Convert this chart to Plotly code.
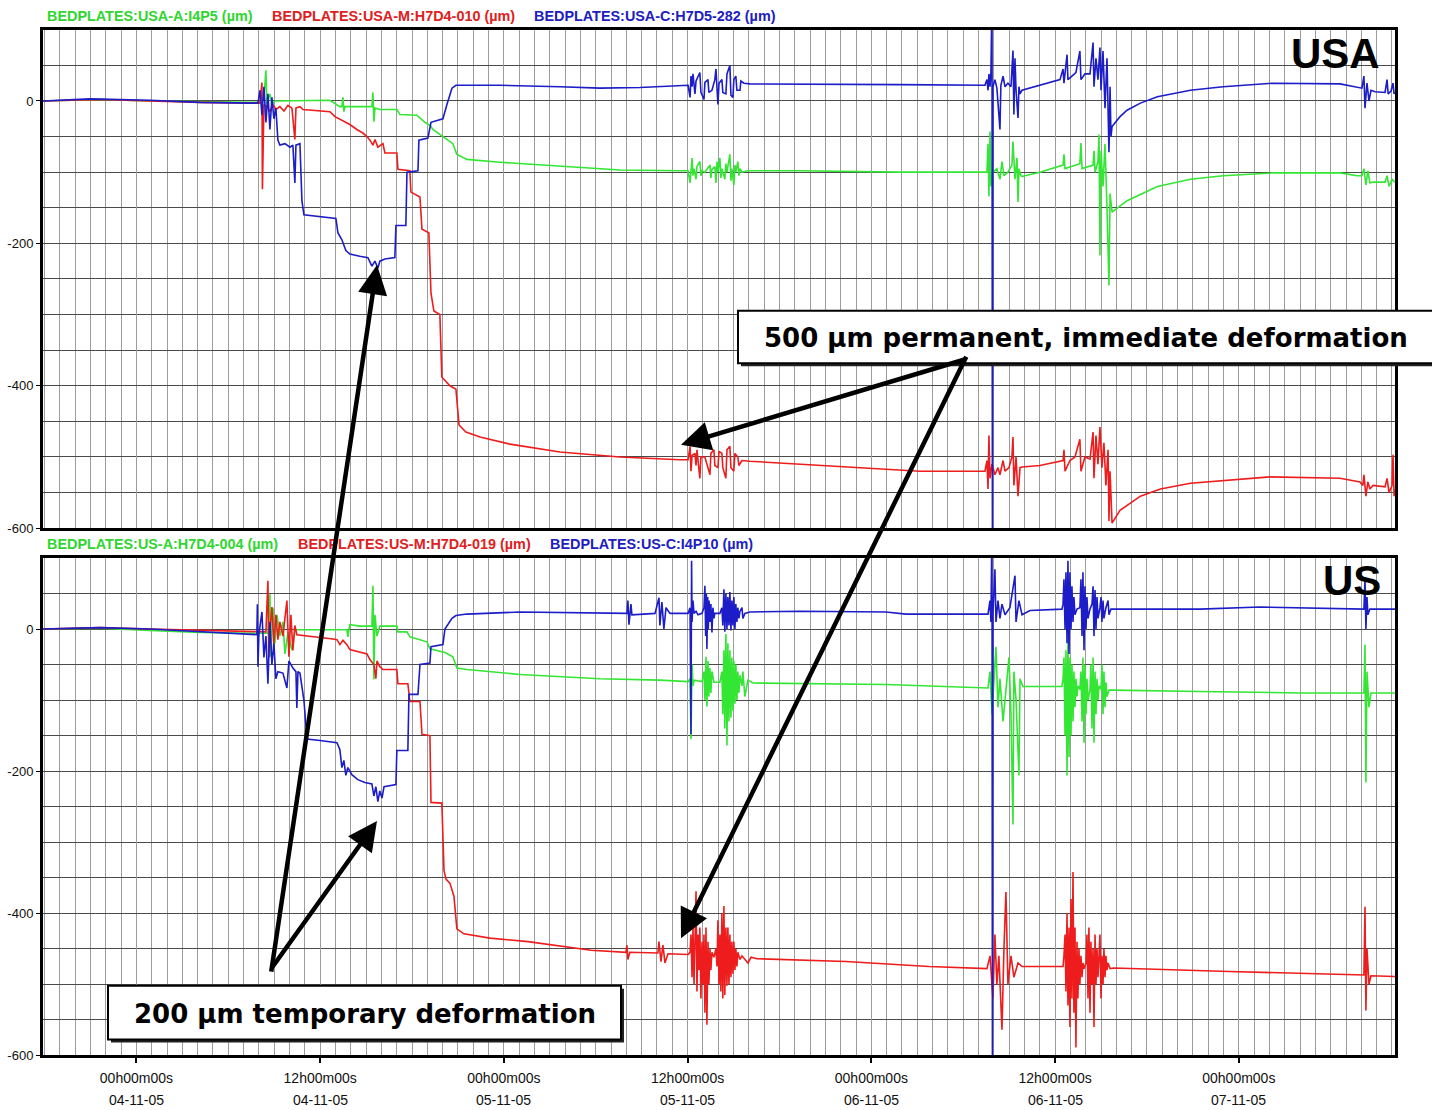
import plotly.graph_objects as go
import pandas as pd

# ---------------- data ----------------
BASE = pd.Timestamp("2005-11-04 00:00:00")
X_RANGE_H = [-6.1, 82.2]          # hours relative to 04-11-05 00h00
Y_RANGE = [-600, 100]
y_tick_values = [-600, -400, -200, 0]
tick_hours = [0, 12, 24, 36, 48, 60, 72]

legend_top = ["BEDPLATES:USA-A:I4P5 (µm)", "BEDPLATES:USA-M:H7D4-010 (µm)", "BEDPLATES:USA-C:H7D5-282 (µm)"]
legend_bot = ["BEDPLATES:US-A:H7D4-004 (µm)", "BEDPLATES:US-M:H7D4-019 (µm)", "BEDPLATES:US-C:I4P10 (µm)"]
panel_names = ["USA", "US"]
callouts = ["500 µm permanent, immediate deformation", "200 µm temporary deformation"]

# each series: (hours since 04-11-05 00h00, µm)
usa_a = [(-6.1, 0), (-2.38, 2), (0.88, 0), (4.15, -1), (7.74, -2), (8.07, -1), (8.33, 5), (8.46, 43), (8.52, -5), (8.72, 10),
         (8.85, -5), (9.05, 0), (9.37, 0), (10.48, 1), (12.64, 1), (13.29, -8), (13.42, -8), (13.49, 5), (13.55, -15), (13.62, -8),
         (15.06, -8), (15.38, -8), (15.45, 12), (15.51, -29), (15.58, -10), (15.90, -12), (17.01, -12), (17.21, -19), (18.32, -20),
         (18.84, -30), (19.17, -34), (19.37, -40), (20.02, -50), (20.48, -58), (20.67, -60), (20.93, -75), (21.59, -82), (23.74, -86),
         (27.66, -92), (31.58, -97), (35.50, -98), (36.03, -98), (36.16, -115), (36.22, -90), (36.29, -80), (36.35, -105), (36.42, -95),
         (36.55, -110), (36.61, -92), (36.80, -85), (36.87, -105), (36.94, -98), (37.13, -100), (37.46, -90), (37.52, -108), (37.59, -96),
         (37.78, -92), (37.85, -115), (37.92, -85), (37.98, -100), (38.11, -80), (38.17, -108), (38.24, -95), (38.43, -110), (38.50, -88),
         (38.57, -100), (38.70, -82), (38.76, -75), (38.83, -112), (38.89, -95), (39.02, -118), (39.09, -90), (39.15, -100), (39.28, -85),
         (39.35, -105), (39.42, -95), (39.55, -100), (39.94, -98), (43.34, -98), (49.87, -100), (55.42, -100), (55.55, -100),
         (55.62, -60), (55.68, -134), (55.75, -43), (55.81, -120), (55.94, -100), (56.20, -95), (56.40, -110), (56.53, -85),
         (56.66, -105), (56.92, -100), (57.18, -90), (57.25, -57), (57.38, -110), (57.51, -80), (57.58, -142), (57.64, -95),
         (57.77, -105), (57.84, -106), (59.01, -100), (60.52, -90), (60.58, -75), (60.65, -95), (61.62, -88), (61.69, -59),
         (61.76, -95), (62.48, -90), (62.54, -70), (62.61, -100), (62.80, -85), (62.87, -47), (62.93, -217), (63.00, -70),
         (63.13, -120), (63.26, -60), (63.39, -150), (63.52, -259), (63.59, -130), (63.72, -156), (64.70, -140), (66.68, -120),
         (68.84, -110), (70.97, -105), (74.23, -101), (78.61, -101), (79.72, -105), (80.04, -105), (80.17, -95), (80.30, -118),
         (80.43, -98), (80.56, -115), (80.77, -114), (81.55, -114), (81.68, -105), (81.81, -120), (82.01, -110), (82.20, -114)]

usa_m = [(-6.1, 0), (-2.38, 2), (0.88, 0), (4.15, -2), (7.74, -3), (8.07, -3), (8.20, 26), (8.23, -124), (8.33, -5), (8.52, -8),
         (8.72, -15), (8.92, -5), (9.11, -12), (9.37, -8), (9.64, -14), (9.90, -6), (10.16, -10), (10.35, -54), (10.42, -10),
         (10.68, -8), (10.88, -12), (12.64, -15), (12.97, -22), (13.29, -26), (13.62, -30), (13.94, -33), (14.40, -40), (14.79, -45),
         (15.06, -50), (15.25, -55), (15.45, -62), (15.58, -54), (15.77, -65), (16.10, -60), (16.23, -73), (17.01, -73), (17.08, -96),
         (17.86, -98), (17.93, -128), (18.52, -135), (18.65, -180), (19.10, -185), (19.24, -270), (19.43, -295), (19.82, -300),
         (19.95, -388), (20.48, -400), (20.87, -405), (21.07, -455), (21.52, -465), (22.44, -472), (24.40, -482), (27.66, -493),
         (31.58, -500), (35.50, -504), (36.03, -504), (36.16, -485), (36.22, -520), (36.29, -498), (36.48, -495), (36.55, -512),
         (36.61, -490), (36.80, -530), (36.87, -500), (37.13, -500), (37.46, -525), (37.52, -495), (37.72, -490), (37.78, -512),
         (37.98, -515), (38.05, -492), (38.24, -495), (38.30, -515), (38.50, -530), (38.57, -490), (38.76, -485), (38.83, -515),
         (39.02, -520), (39.09, -495), (39.28, -500), (39.35, -512), (39.55, -505), (40.07, -506), (43.34, -510), (47.26, -515),
         (51.18, -520), (55.42, -520), (55.55, -505), (55.62, -545), (55.68, -470), (55.75, -530), (55.88, -510), (56.07, -525),
         (56.27, -515), (56.40, -525), (56.60, -505), (56.73, -520), (56.99, -515), (57.18, -500), (57.25, -472), (57.31, -540),
         (57.45, -500), (57.58, -555), (57.71, -515), (57.84, -514), (59.01, -512), (60.52, -505), (60.58, -490), (60.65, -520),
         (60.97, -505), (61.30, -500), (61.62, -475), (61.69, -520), (61.95, -500), (62.28, -503), (62.48, -465), (62.54, -530),
         (62.67, -470), (62.80, -510), (62.93, -458), (63.06, -515), (63.19, -480), (63.32, -540), (63.46, -490), (63.52, -590),
         (63.59, -520), (63.72, -593), (64.24, -575), (65.57, -555), (66.88, -545), (68.84, -537), (71.43, -532), (74.04, -528),
         (78.61, -530), (79.91, -535), (80.10, -540), (80.17, -525), (80.30, -555), (80.43, -535), (80.56, -545), (80.77, -540),
         (81.55, -542), (81.68, -530), (81.81, -550), (82.01, -540), (82.07, -497), (82.14, -555), (82.20, -545)]

usa_c = [(-6.1, 0), (-3.04, 3), (0.88, 1), (4.15, -2), (7.41, -3), (7.94, -3), (8.07, 15), (8.20, -20), (8.33, 20), (8.46, -30),
         (8.59, 10), (8.72, -40), (8.85, 5), (8.98, -25), (9.11, -10), (9.24, -55), (9.37, -62), (9.70, -60), (10.03, -65),
         (10.22, -62), (10.35, -115), (10.42, -62), (10.68, -60), (10.81, -140), (10.94, -160), (11.99, -163), (13.03, -165),
         (13.16, -185), (13.42, -195), (13.68, -210), (13.94, -215), (14.59, -218), (15.12, -220), (15.38, -232), (15.58, -225),
         (15.77, -235), (15.90, -225), (16.23, -222), (16.88, -220), (16.95, -175), (17.60, -175), (17.67, -100), (18.39, -98),
         (18.45, -55), (19.04, -52), (19.24, -30), (20.02, -25), (20.28, -5), (20.61, 18), (20.87, 22), (23.74, 22), (27.66, 20),
         (30.27, 18), (32.89, 19), (35.50, 22), (36.03, 22), (36.16, 5), (36.22, 35), (36.29, 20), (36.35, 38), (36.48, 10),
         (36.55, 28), (36.80, 40), (36.87, 12), (37.07, 2), (37.13, 26), (37.33, 30), (37.39, 12), (37.59, 15), (37.78, 30),
         (37.85, 45), (37.92, 10), (37.98, -5), (38.05, 25), (38.24, 30), (38.30, 12), (38.50, 10), (38.57, 38), (38.76, 50),
         (38.83, 8), (38.96, 5), (39.02, 30), (39.15, 35), (39.22, 15), (39.42, 15), (39.48, 28), (39.68, 25), (40.07, 24),
         (43.34, 24), (49.87, 23), (55.42, 22), (55.55, 30), (55.62, 15), (55.68, 38), (55.75, 20), (55.81, 40), (55.88, 150),
         (55.91, -700), (55.94, 20), (56.07, 30), (56.20, 18), (56.40, -40), (56.46, 22), (56.60, 35), (56.73, 20), (56.92, 25),
         (57.12, 20), (57.25, 71), (57.31, -19), (57.38, 60), (57.45, 15), (57.58, -24), (57.64, 20), (57.71, 10), (57.84, 15),
         (59.01, 22), (60.32, 30), (60.52, 45), (60.58, 25), (60.78, 65), (60.84, 30), (61.10, 35), (61.36, 40), (61.62, 70),
         (61.69, 30), (61.95, 38), (62.28, 38), (62.48, 82), (62.54, 20), (62.67, 60), (62.80, 30), (62.93, 75), (63.00, 15),
         (63.13, 70), (63.26, -10), (63.39, 60), (63.52, -72), (63.59, 20), (63.65, -50), (63.72, -36), (64.24, -22), (64.70, -13),
         (65.57, -3), (66.68, 6), (68.84, 15), (70.97, 20), (74.23, 25), (78.61, 24), (79.72, 20), (80.04, 18), (80.17, 35),
         (80.24, -10), (80.37, 25), (80.50, 0), (80.63, 15), (80.90, 13), (81.55, 12), (81.68, 30), (81.75, 10), (81.94, 14),
         (82.07, 25), (82.14, 10), (82.20, 12)]

us_a = [(-6.1, 0), (-2.38, 1), (0.88, -2), (4.15, -5), (7.74, -6), (8.59, -6), (8.72, 49), (8.78, -39), (8.92, 30), (9.05, -20),
        (9.18, 20), (9.37, -10), (9.57, 10), (9.70, -35), (9.90, -5), (10.16, -30), (10.35, -3), (10.48, -1), (13.75, -1),
        (13.81, -11), (13.94, 6), (14.59, 4), (15.38, 4), (15.45, 61), (15.51, -71), (15.58, 20), (15.71, -10), (15.90, 4),
        (17.01, 4), (17.08, -4), (17.67, -4), (17.86, -11), (18.97, -18), (19.17, -28), (20.15, -33), (20.67, -39), (20.93, -55),
        (21.59, -57), (25.05, -64), (30.27, -70), (34.19, -72), (36.03, -74), (36.16, -70), (36.22, -155), (36.29, -50),
        (36.35, -80), (36.42, -72), (36.94, -74), (37.07, -60), (37.13, -100), (37.20, -39), (37.26, -109), (37.33, -45),
        (37.39, -95), (37.46, -55), (37.52, -90), (37.59, -60), (37.72, -75), (38.11, -75), (38.24, -60), (38.30, -120),
        (38.37, -30), (38.43, -140), (38.50, -7), (38.57, -164), (38.63, -20), (38.70, -130), (38.76, -30), (38.83, -125),
        (38.89, -40), (38.96, -115), (39.02, -45), (39.09, -105), (39.15, -50), (39.22, -100), (39.28, -60), (39.35, -90),
        (39.42, -65), (39.55, -80), (39.61, -60), (39.74, -95), (39.94, -72), (40.27, -76), (48.96, -78), (55.62, -83),
        (55.75, -60), (55.88, -120), (56.01, -70), (56.14, -25), (56.27, -110), (56.40, -70), (56.60, -130), (56.79, -80),
        (56.99, -40), (57.12, -120), (57.25, -275), (57.31, -60), (57.45, -100), (57.64, -206), (57.71, -70), (57.90, -81),
        (60.45, -81), (60.52, -70), (60.58, -40), (60.65, -150), (60.71, -30), (60.78, -206), (60.84, -11), (60.91, -180),
        (60.97, -40), (61.04, -150), (61.10, -50), (61.17, -130), (61.23, -60), (61.30, -110), (61.36, -70), (61.43, -95),
        (61.49, -80), (61.62, -85), (61.69, -60), (61.76, -130), (61.82, -40), (61.89, -160), (61.95, -50), (62.02, -120),
        (62.08, -70), (62.15, -100), (62.28, -85), (62.34, -50), (62.41, -140), (62.48, -40), (62.54, -160), (62.61, -60),
        (62.67, -120), (62.74, -70), (62.80, -100), (62.87, -80), (63.00, -85), (63.06, -50), (63.13, -120), (63.19, -60),
        (63.26, -110), (63.32, -75), (63.39, -95), (63.52, -86), (63.78, -86), (69.46, -88), (75.99, -90), (79.91, -90),
        (80.17, -90), (80.24, -22), (80.30, -216), (80.37, -60), (80.50, -110), (80.63, -90), (82.20, -90)]

us_m = [(-6.1, 0), (-2.38, 2), (0.88, 0), (4.15, -2), (7.74, -4), (8.46, -4), (8.52, 30), (8.59, 68), (8.65, -40), (8.72, -4),
        (8.85, 31), (8.98, -21), (9.11, 20), (9.24, -15), (9.37, 10), (9.57, -10), (9.83, 40), (9.96, -39), (10.09, 20),
        (10.22, -30), (10.35, 5), (10.48, -8), (12.84, -14), (13.10, -15), (13.29, -22), (13.49, -16), (13.75, -22), (13.94, -29),
        (15.06, -35), (15.25, -43), (15.51, -50), (15.64, -70), (15.71, -45), (15.90, -53), (16.10, -57), (17.01, -57),
        (17.08, -77), (17.73, -77), (17.86, -102), (18.52, -102), (18.65, -148), (19.17, -150), (19.24, -244), (19.95, -245),
        (20.09, -340), (20.22, -352), (20.48, -358), (20.74, -376), (20.93, -422), (21.39, -429), (23.09, -435), (25.57, -440),
        (29.69, -452), (31.97, -455), (32.04, -445), (32.10, -465), (32.23, -455), (34.06, -456), (34.13, -440), (34.26, -468),
        (34.39, -445), (34.52, -470), (34.72, -457), (36.03, -458), (36.16, -455), (36.22, -430), (36.29, -490), (36.35, -420),
        (36.42, -500), (36.48, -440), (36.55, -369), (36.61, -510), (36.68, -430), (36.74, -480), (36.80, -420), (36.87, -520),
        (36.94, -440), (37.00, -500), (37.07, -430), (37.13, -540), (37.20, -420), (37.26, -557), (37.33, -440), (37.39, -500),
        (37.46, -450), (37.52, -480), (37.59, -455), (37.72, -462), (37.85, -450), (37.92, -475), (37.98, -410), (38.05, -500),
        (38.11, -430), (38.17, -510), (38.24, -400), (38.30, -520), (38.37, -390), (38.43, -515), (38.50, -420), (38.57, -502),
        (38.63, -420), (38.70, -500), (38.76, -430), (38.83, -490), (38.89, -440), (38.96, -485), (39.02, -440), (39.09, -480),
        (39.15, -450), (39.22, -475), (39.28, -455), (39.42, -465), (39.55, -460), (39.94, -470), (40.14, -462), (40.53, -464),
        (46.34, -468), (51.76, -475), (55.55, -478), (55.75, -460), (55.94, -520), (56.07, -430), (56.20, -500), (56.33, -460),
        (56.53, -564), (56.66, -450), (56.79, -370), (56.92, -500), (57.12, -460), (57.31, -490), (57.58, -470), (57.84, -475),
        (60.52, -475), (60.58, -460), (60.65, -430), (60.71, -510), (60.78, -400), (60.84, -530), (60.91, -420), (60.97, -560),
        (61.04, -380), (61.10, -520), (61.17, -342), (61.23, -540), (61.30, -420), (61.36, -589), (61.43, -440), (61.49, -520),
        (61.56, -450), (61.62, -500), (61.69, -460), (61.76, -490), (61.82, -470), (61.89, -478), (62.02, -470), (62.08, -430),
        (62.15, -520), (62.21, -420), (62.28, -540), (62.34, -440), (62.41, -500), (62.48, -450), (62.54, -560), (62.61, -430),
        (62.67, -500), (62.74, -450), (62.80, -490), (62.87, -460), (62.93, -430), (63.00, -520), (63.06, -460), (63.13, -500),
        (63.19, -450), (63.26, -490), (63.32, -460), (63.39, -480), (63.46, -470), (63.59, -478), (63.85, -477), (71.36, -482),
        (79.72, -487), (80.17, -487), (80.24, -391), (80.30, -537), (80.37, -450), (80.50, -500), (80.63, -488), (82.20, -489)]

us_c = [(-6.1, 0), (-2.38, 2), (0.88, 0), (4.15, -4), (7.74, -8), (7.87, -8), (7.90, 35), (7.94, -53), (8.00, -8), (8.20, 24),
        (8.33, -40), (8.46, -10), (8.59, -77), (8.72, 10), (8.85, -50), (8.98, -20), (9.11, -70), (9.24, -60), (9.57, -62),
        (9.83, -83), (9.96, -45), (10.22, -55), (10.42, -60), (10.48, -111), (10.55, -60), (10.68, -62), (10.94, -100),
        (11.14, -155), (11.99, -157), (13.10, -160), (13.29, -170), (13.42, -195), (13.55, -185), (13.68, -206), (13.81, -195),
        (14.07, -205), (14.46, -212), (14.92, -216), (15.38, -218), (15.51, -235), (15.64, -222), (15.77, -243), (15.90, -228),
        (16.04, -238), (16.17, -222), (16.56, -220), (16.95, -219), (17.01, -171), (17.73, -171), (17.80, -92), (18.39, -92),
        (18.52, -50), (19.17, -48), (19.24, -25), (20.02, -22), (20.15, 0), (20.61, 15), (20.87, 19), (21.59, 21), (25.05, 24),
        (30.27, 22), (32.04, 22), (32.10, 40), (32.17, 6), (32.30, 35), (32.36, 20), (33.87, 22), (34.13, 44), (34.19, 5),
        (34.32, 38), (34.45, 0), (34.59, 30), (34.85, 22), (36.03, 22), (36.16, 30), (36.22, -148), (36.26, 96), (36.29, 10),
        (36.35, 40), (36.42, 22), (36.55, 25), (36.68, 20), (36.94, 22), (37.07, 30), (37.13, 61), (37.18, -10), (37.22, 50),
        (37.26, -28), (37.31, 45), (37.35, 0), (37.40, 40), (37.46, 10), (37.52, 35), (37.59, -5), (37.65, 30), (37.72, 15),
        (37.78, 22), (38.11, 22), (38.24, 30), (38.30, 5), (38.37, 56), (38.43, -4), (38.50, 50), (38.57, 0), (38.63, 45),
        (38.70, 5), (38.76, 52), (38.83, -2), (38.89, 40), (38.96, 5), (39.02, 45), (39.09, 0), (39.15, 35), (39.22, 10),
        (39.28, 30), (39.35, 15), (39.42, 25), (39.55, 30), (39.61, 15), (39.74, 22), (40.07, 24), (43.34, 25), (48.96, 24),
        (50.26, 21), (55.62, 21), (55.75, 40), (55.81, 10), (55.88, 150), (55.91, -700), (55.94, 20), (56.07, 84), (56.14, 10),
        (56.27, 40), (56.40, 15), (56.53, 35), (56.73, 20), (57.05, 30), (57.38, 75), (57.45, 10), (57.64, 40), (57.84, 20),
        (58.36, 26), (60.45, 28), (60.52, 35), (60.58, 70), (60.65, 0), (60.71, 80), (60.78, -20), (60.84, 96), (60.91, -35),
        (60.97, 80), (61.04, 0), (61.10, 60), (61.17, 10), (61.23, 45), (61.30, 20), (61.43, 28), (61.62, 30), (61.69, 70),
        (61.76, -10), (61.82, 80), (61.89, -30), (61.95, 60), (62.02, 0), (62.08, 45), (62.15, 15), (62.28, 28), (62.41, 35),
        (62.48, 60), (62.54, -10), (62.61, 55), (62.67, 0), (62.74, 45), (62.80, 15), (62.93, 30), (63.00, 45), (63.06, 10),
        (63.13, 40), (63.19, 15), (63.32, 30), (63.46, 40), (63.52, 20), (63.65, 28), (63.78, 28), (69.46, 28), (73.38, 31),
        (75.99, 30), (79.91, 28), (80.17, 28), (80.24, 70), (80.30, 0), (80.37, 45), (80.43, 20), (80.56, 28), (82.20, 28)]

# ---------------- styling / layout constants ----------------
W, H = 1432, 1110
GREEN, RED, BLUE = "#33e633", "#ee1c1c", "#1c1cc8"
GREEN_T, RED_T, BLUE_T = "#2fd62f", "#e02020", "#2020c0"
PX_L, PX_R = 43, 1395
PANELS_PX = [(30, 532), (562, 1063)]   # top, bottom pixel rows of each plot area
FONT = "Liberation Sans, Arial"


def hx(px):
    return px / W


def hy(py):
    return 1 - py / H


def to_time(hours):
    return [BASE + pd.Timedelta(hours=h) for h in hours]


fig = go.Figure()
series = [
    [(usa_a, GREEN, legend_top[0]), (usa_m, RED, legend_top[1]), (usa_c, BLUE, legend_top[2])],
    [(us_a, GREEN, legend_bot[0]), (us_m, RED, legend_bot[1]), (us_c, BLUE, legend_bot[2])],
]
for i, group in enumerate(series):
    xa = "x" if i == 0 else "x2"
    ya = "y" if i == 0 else "y2"
    for pts, c, name in group:
        t = [p[0] for p in pts]
        v = [p[1] for p in pts]
        fig.add_trace(go.Scatter(x=to_time(t), y=v, mode="lines", name=name,
                                 line=dict(color=c, width=1.6), xaxis=xa, yaxis=ya,
                                 showlegend=False))

x_range = [BASE + pd.Timedelta(hours=X_RANGE_H[0]), BASE + pd.Timedelta(hours=X_RANGE_H[1])]
ax_common = dict(
    type="date", range=x_range, domain=[hx(PX_L), hx(PX_R)],
    dtick=12 * 3600 * 1000, tick0=BASE,
    showgrid=True, gridcolor="#9c9c9c", gridwidth=1,
    minor=dict(dtick=3600 * 1000, showgrid=True, gridcolor="#9c9c9c", gridwidth=1),
    showline=True, linecolor="black", linewidth=3, mirror=True, zeroline=False,
)
ay_common = dict(
    range=Y_RANGE, tickmode="array", tickvals=y_tick_values, ticktext=[str(v) for v in y_tick_values],
    showgrid=True, gridcolor="#4a4a4a", gridwidth=1,
    minor=dict(dtick=50, tick0=0, showgrid=True, gridcolor="#4a4a4a", gridwidth=1),
    showline=True, linecolor="black", linewidth=3, mirror=True, zeroline=False,
    ticks="outside", ticklen=4, tickcolor="black", tickwidth=1,
    tickfont=dict(family=FONT, size=13, color="#111"),
)

fig.update_layout(
    width=W, height=H, margin=dict(l=0, r=0, t=0, b=0),
    paper_bgcolor="white", plot_bgcolor="white", showlegend=False,
    xaxis=dict(ax_common, anchor="y", showticklabels=False, ticks=""),
    yaxis=dict(ay_common, anchor="x", domain=[hy(PANELS_PX[0][1]), hy(PANELS_PX[0][0])]),
    xaxis2=dict(ax_common, anchor="y2", matches="x", showticklabels=True,
                ticks="outside", ticklen=5, tickcolor="black", tickwidth=2,
                tickformat="%Hh%Mm%Ss", ticklabelstandoff=3,
                tickfont=dict(family=FONT, size=14, color="#111")),
    yaxis2=dict(ay_common, anchor="x2", domain=[hy(PANELS_PX[1][1]), hy(PANELS_PX[1][0])]),
)

annotations = []
# date line of the x tick labels
for h in tick_hours:
    d = BASE + pd.Timedelta(hours=h)
    annotations.append(dict(x=d, xref="x2", y=hy(1108), yref="paper", text=d.strftime("%d-%m-%y"),
                            showarrow=False, yanchor="middle", xanchor="center",
                            font=dict(family=FONT, size=14, color="#111")))

# channel legends
for labels, ypx, xs in [(legend_top, 16, [45, 270, 532]), (legend_bot, 548, [45, 296, 548])]:
    for lab, xpx, col in zip(labels, xs, [GREEN_T, RED_T, BLUE_T]):
        annotations.append(dict(x=hx(xpx), y=hy(ypx), xref="paper", yref="paper", text=f"<b>{lab}</b>",
                                showarrow=False, xanchor="left", yanchor="middle",
                                font=dict(family=FONT, size=14.4, color=col)))

# panel names
for name, (xr, yc) in zip(panel_names, [(1382, 54), (1383, 585)]):
    annotations.append(dict(x=hx(xr), y=hy(yc), xref="paper", yref="paper", text=f"<b>{name}</b>",
                            showarrow=False, xanchor="right", yanchor="middle",
                            font=dict(family=FONT, size=42, color="black")))

# call-out boxes (shadow + white box) and texts
shapes = []
boxes = [((738, 313, 1436, 366), callouts[0], 1086), ((108, 993, 621, 1047), callouts[1], 364.5)]
for (x0, y0, x1, y1), txt, cx in boxes:
    shapes.append(dict(type="rect", xref="paper", yref="paper", x0=hx(x0 + 3), x1=hx(x1 + 3),
                       y0=hy(y1 + 3), y1=hy(y0 + 3), fillcolor="#222", line=dict(width=0), layer="above"))
    shapes.append(dict(type="rect", xref="paper", yref="paper", x0=hx(x0), x1=hx(x1),
                       y0=hy(y1), y1=hy(y0), fillcolor="white", line=dict(color="black", width=2), layer="above"))
    annotations.append(dict(x=hx(cx), y=hy((y0 + y1) / 2 + 1), xref="paper", yref="paper", text=f"<b>{txt}</b>",
                            showarrow=False, xanchor="center", yanchor="middle",
                            font=dict(family="DejaVu Sans", size=26, color="black")))

# arrows (tail -> head, pixel positions)
arrows = [((967, 362), (681, 448)), ((967, 362), (681, 945)),
          ((271, 975), (377, 267)), ((271, 975), (377, 827))]
for (tx, ty), (hx_, hy_) in arrows:
    annotations.append(dict(x=hx(hx_), y=hy(hy_), xref="paper", yref="paper", text="",
                            showarrow=True, ax=tx - hx_, ay=ty - hy_, axref="pixel", ayref="pixel",
                            arrowhead=2, arrowsize=1.3, arrowwidth=4.5, arrowcolor="black", standoff=0))

fig.update_layout(annotations=annotations, shapes=shapes)
fig.write_html("out.html")
